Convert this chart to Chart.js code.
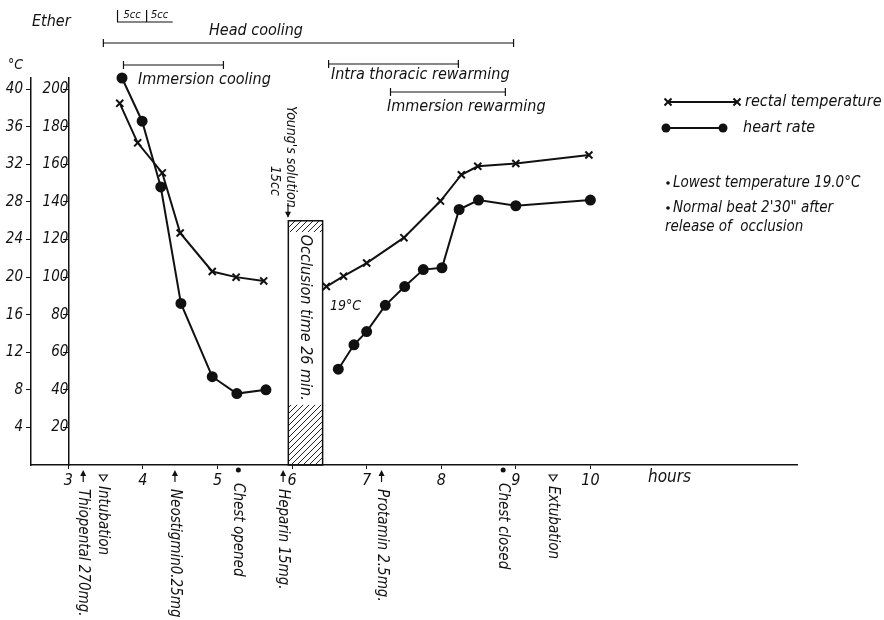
<!DOCTYPE html>
<html>
<head>
<meta charset="utf-8">
<script src="https://cdn.jsdelivr.net/npm/chart.js@4.4.1/dist/chart.umd.min.js"></script>
<style>
  html, body { margin: 0; background: #fff; }
</style>
</head>
<body>
<canvas id="chart" width="884" height="620"></canvas>
<script>
// Data
const tempHours = [3.69, 3.93, 4.26, 4.50, 4.93, 5.25, 5.62, 6.46, 6.69, 7.00, 7.50, 7.99, 8.27, 8.49, 9.00, 9.98];
const tempC = [38.5, 34.3, 31.1, 24.7, 20.6, 20.0, 19.6, 19.0, 20.1, 21.5, 24.2, 28.1, 30.9, 31.8, 32.1, 33.0];
const heartHours = [3.72, 3.99, 4.24, 4.51, 4.93, 5.26, 5.65, 6.62, 6.83, 7.00, 7.25, 7.51, 7.76, 8.01, 8.24, 8.50, 9.00, 10.00];
const heartRate = [206, 183, 148, 86, 47, 38, 40, 51, 64, 71, 85, 95, 104, 105, 136, 141, 138, 141];

const hourTicks = [3, 4, 5, 6, 7, 8, 9, 10];
const tempTicks = [4, 8, 12, 16, 20, 24, 28, 32, 36, 40];
const heartTicks = [20, 40, 60, 80, 100, 120, 140, 160, 180, 200];

// occlusion (26 min)
const occlusionStart = 5.95;
const occlusionEnd = 6.41;

// events under the time axis
const eventHours = [3.2, 3.47, 4.43, 5.28, 5.88, 7.2, 8.83, 9.5];
const eventLabels = ['Thiopental 270mg.', 'Intubation', 'Neostigmin0.25mg', 'Chest opened', 'Heparin 15mg.', 'Protamin 2.5mg.', 'Chest closed', 'Extubation'];
const eventMarks = ['arrow', 'triangle', 'arrow', 'dot', 'arrow', 'arrow', 'dot', 'triangle'];

// procedure periods above the plot
const periodLabels = ['Head cooling', 'Immersion cooling', 'Intra thoracic rewarming', 'Immersion rewarming'];
const periodStart = [3.47, 3.74, 6.49, 7.32];
const periodEnd = [8.97, 5.08, 8.23, 8.86];

const FONT = '"Liberation Sans Narrow", "DejaVu Sans Condensed", "Roboto", sans-serif';
const INK = '#111';

function hatchPattern(ctx) {
    const p = document.createElement('canvas');
    p.width = p.height = 6;
    const g = p.getContext('2d');
    g.strokeStyle = '#222';
    g.lineWidth = 1;
    g.beginPath();
    g.moveTo(0, 6); g.lineTo(6, 0);
    g.moveTo(-3, 3); g.lineTo(3, -3);
    g.moveTo(3, 9); g.lineTo(9, 3);
    g.stroke();
    return ctx.createPattern(p, 'repeat');
}

function text(ctx, s, x, y, size, align, rot) {
    ctx.save();
    ctx.translate(x, y);
    if (rot) ctx.rotate(rot);
    ctx.font = 'italic ' + size + 'px ' + FONT;
    ctx.fillStyle = INK;
    ctx.textAlign = align || 'left';
    ctx.textBaseline = 'middle';
    ctx.fillText(s, 0, 0);
    ctx.restore();
}

function bracket(ctx, x1, x2, y) {
    ctx.beginPath();
    ctx.moveTo(x1, y); ctx.lineTo(x2, y);
    ctx.moveTo(x1, y - 4); ctx.lineTo(x1, y + 4);
    ctx.moveTo(x2, y - 4); ctx.lineTo(x2, y + 4);
    ctx.stroke();
}

const annotations = {
    id: 'annotations',
    beforeDatasetsDraw(chart) {
        const ctx = chart.ctx;
        const xs = chart.scales.x, ys = chart.scales.y;
        const x1 = xs.getPixelForValue(occlusionStart);
        const x2 = xs.getPixelForValue(occlusionEnd);
        const top = ys.getPixelForValue(130);
        const bottom = ys.getPixelForValue(0);
        ctx.save();
        ctx.fillStyle = hatchPattern(ctx);
        ctx.fillRect(x1, top, x2 - x1, ys.getPixelForValue(124) - top);
        ctx.fillRect(x1, ys.getPixelForValue(32), x2 - x1, bottom - ys.getPixelForValue(32));
        ctx.strokeStyle = INK;
        ctx.lineWidth = 1.5;
        ctx.strokeRect(x1, top, x2 - x1, bottom - top);
        ctx.restore();
        text(ctx, 'Occlusion time 26 min.', (x1 + x2) / 2, top + 14, 16, 'left', Math.PI / 2);
    },
    afterDraw(chart) {
        const ctx = chart.ctx;
        const xs = chart.scales.x, ys = chart.scales.y;
        const base = chart.chartArea.bottom;
        ctx.save();
        ctx.strokeStyle = INK;
        ctx.fillStyle = INK;
        ctx.lineWidth = 1.2;

        // Ether 5cc
        text(ctx, 'Ether', 32, 22, 16, 'left');
        const e1 = xs.getPixelForValue(3.66), e2 = xs.getPixelForValue(4.05), e3 = xs.getPixelForValue(4.40);
        ctx.beginPath();
        ctx.moveTo(e1, 10); ctx.lineTo(e1, 22); ctx.lineTo(e3, 22);
        ctx.moveTo(e2, 10); ctx.lineTo(e2, 22);
        ctx.stroke();
        text(ctx, '5cc', (e1 + e2) / 2, 15, 11, 'center');
        text(ctx, '5cc', (e2 + e3) / 2, 15, 11, 'center');

        // periods
        const barY = [43, 65, 64, 92];
        const labX = [null, 138, 331, 387];
        const labY = [31, 80, 75, 107];
        periodLabels.forEach((lab, i) => {
            const a = xs.getPixelForValue(periodStart[i]);
            const b = xs.getPixelForValue(periodEnd[i]);
            bracket(ctx, a, b, barY[i]);
            if (i === 0) text(ctx, lab, 256, labY[i], 16, 'center');
            else text(ctx, lab, labX[i], labY[i], 16, 'left');
        });

        // Young's solution
        text(ctx, "Young's solution", 291, 106, 14, 'left', Math.PI / 2);
        text(ctx, '15cc', 275, 166, 14, 'left', Math.PI / 2);
        const yTop = ys.getPixelForValue(130);
        ctx.beginPath();
        ctx.moveTo(288, 203); ctx.lineTo(288, yTop - 4);
        ctx.stroke();
        ctx.beginPath();
        ctx.moveTo(285, yTop - 9); ctx.lineTo(291, yTop - 9); ctx.lineTo(288, yTop - 3);
        ctx.fill();

        // lowest temperature label
        text(ctx, '19°C', 330, 306, 14, 'left');

        // axis title
        text(ctx, '°C', 8, 65, 14, 'left');
        text(ctx, 'hours', 648, 478, 17, 'left');

        // events
        eventHours.forEach((h, i) => {
            const x = xs.getPixelForValue(h);
            const m = eventMarks[i];
            let startY = base + 22;
            if (m === 'arrow') {
                ctx.beginPath();
                ctx.moveTo(x, base + 17); ctx.lineTo(x, base + 7);
                ctx.stroke();
                ctx.beginPath();
                ctx.moveTo(x - 3, base + 11); ctx.lineTo(x, base + 5); ctx.lineTo(x + 3, base + 11);
                ctx.fill();
                startY = base + 24;
            } else if (m === 'triangle') {
                ctx.beginPath();
                ctx.moveTo(x - 4, base + 10); ctx.lineTo(x + 4, base + 10); ctx.lineTo(x, base + 16);
                ctx.closePath();
                ctx.stroke();
                startY = base + 21;
            } else {
                ctx.beginPath();
                ctx.arc(x, base + 5, 2.5, 0, Math.PI * 2);
                ctx.fill();
                startY = base + 18;
            }
            text(ctx, eventLabels[i], x, startY, 15, 'left', Math.PI / 2);
        });

        // legend
        ctx.lineWidth = 2;
        ctx.beginPath();
        ctx.moveTo(668, 102); ctx.lineTo(737, 102);
        ctx.moveTo(666, 128); ctx.lineTo(723, 128);
        ctx.stroke();
        [668, 737].forEach(x => {
            ctx.beginPath();
            ctx.moveTo(x - 3.5, 98.5); ctx.lineTo(x + 3.5, 105.5);
            ctx.moveTo(x + 3.5, 98.5); ctx.lineTo(x - 3.5, 105.5);
            ctx.stroke();
        });
        [666, 723].forEach(x => {
            ctx.beginPath();
            ctx.arc(x, 128, 4.5, 0, Math.PI * 2);
            ctx.fill();
        });
        text(ctx, 'rectal temperature', 745, 102, 16, 'left');
        text(ctx, 'heart rate', 743, 128, 16, 'left');
        [183, 208].forEach(y => {
            ctx.beginPath();
            ctx.arc(668, y, 1.8, 0, Math.PI * 2);
            ctx.fill();
        });
        text(ctx, 'Lowest temperature 19.0°C', 673, 183, 15, 'left');
        text(ctx, 'Normal beat 2\'30" after', 673, 208, 15, 'left');
        text(ctx, 'release of  occlusion', 665, 227, 15, 'left');
        ctx.restore();
    }
};

const gapSegment = {
    borderColor: c => (c.p0.parsed.x < occlusionStart && c.p1.parsed.x > occlusionEnd) ? 'rgba(0,0,0,0)' : INK
};

const tickFont = { family: FONT, size: 15, style: 'italic' };

new Chart(document.getElementById('chart'), {
    type: 'line',
    data: {
        datasets: [
            {
                label: 'rectal temperature',
                data: tempHours.map((h, i) => ({ x: h, y: tempC[i] })),
                yAxisID: 'yT',
                borderColor: INK,
                borderWidth: 2,
                pointStyle: 'crossRot',
                pointRadius: 5,
                pointBorderWidth: 2,
                pointBorderColor: INK,
                segment: gapSegment,
                clip: false
            },
            {
                label: 'heart rate',
                data: heartHours.map((h, i) => ({ x: h, y: heartRate[i] })),
                yAxisID: 'y',
                borderColor: INK,
                borderWidth: 2,
                pointStyle: 'circle',
                pointRadius: 4.5,
                pointBackgroundColor: INK,
                pointBorderColor: INK,
                segment: gapSegment,
                clip: false
            }
        ]
    },
    options: {
        responsive: false,
        animation: false,
        layout: { padding: { top: 78, right: 87, bottom: 125, left: 0 } },
        plugins: { legend: { display: false }, tooltip: { enabled: false } },
        scales: {
            x: {
                type: 'linear',
                min: 2.5,
                max: 12.77,
                afterBuildTicks: s => { s.ticks = hourTicks.map(v => ({ value: v })); },
                afterFit: s => { s.height = 30; },
                grid: { drawOnChartArea: false, tickLength: 4, color: INK },
                border: { color: INK, width: 1.5 },
                ticks: { font: { family: FONT, size: 16, style: 'italic' }, color: INK, padding: 2, maxRotation: 0 }
            },
            yT: {
                type: 'linear',
                position: 'left',
                min: 0,
                max: 41.2,
                afterBuildTicks: s => { s.ticks = tempTicks.map(v => ({ value: v })); },
                afterFit: s => { s.width = 31; },
                grid: { drawOnChartArea: false, tickLength: 5, color: INK },
                border: { color: INK, width: 1.5 },
                ticks: { font: tickFont, color: INK, padding: 3 }
            },
            y: {
                type: 'linear',
                position: { x: 3 },
                min: 0,
                max: 206,
                afterBuildTicks: s => { s.ticks = heartTicks.map(v => ({ value: v })); },
                grid: { drawOnChartArea: false, tickLength: 5, color: INK },
                border: { color: INK, width: 1.5 },
                ticks: { font: tickFont, color: INK, padding: 2 }
            }
        }
    },
    plugins: [annotations]
});
</script>
</body>
</html>
